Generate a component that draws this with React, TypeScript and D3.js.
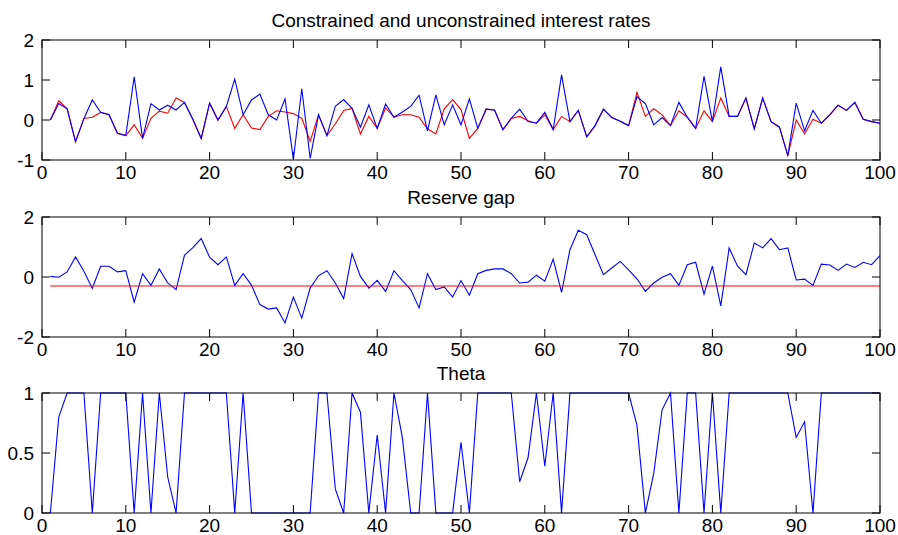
import React, { useEffect, useRef } from "react";
import * as d3 from "d3";

const W = 898;
const H = 535;

const constrainedRate = [
  0, 0.48, 0.28, -0.54, 0.04, 0.07, 0.19, 0.13, -0.33, -0.39,
  -0.12, -0.46, 0.04, 0.22, 0.17, 0.55, 0.44, 0.02, -0.46, 0.42,
  0, 0.34, -0.21, 0.13, -0.2, -0.24, 0.09, 0.23, 0.2, 0.16,
  0.04, -0.53, 0.13, -0.39, -0.1, 0.24, 0.29, -0.35, 0.09, -0.21,
  0.3, 0.07, 0.13, 0.13, 0.07, -0.22, -0.35, 0.28, 0.51, 0.26,
  -0.46, -0.21, 0.27, 0.25, -0.24, 0.04, 0.09, -0.02, -0.08, 0.13,
  -0.24, 0.09, -0.04, 0.24, -0.42, -0.14, 0.27, 0.06, -0.03, -0.14,
  0.69, 0.09, 0.28, 0.13, -0.14, 0.23, 0.07, -0.21, 0.23, -0.04,
  0.55, 0.09, 0.09, 0.55, -0.22, 0.55, -0.04, -0.18, -0.89, 0.0,
  -0.35, 0.02, -0.08, 0.13, 0.37, 0.24, 0.44, 0.02, -0.04, -0.08,
];

const unconstrainedRate = [
  0, 0.41, 0.28, -0.54, 0.03, 0.5, 0.19, 0.13, -0.33, -0.39,
  1.08, -0.46, 0.41, 0.25, 0.37, 0.25, 0.44, 0.02, -0.46, 0.42,
  0, 0.34, 1.02, 0.13, 0.5, 0.65, 0.13, 0.0, 0.53, -0.98,
  0.78, -0.96, 0.13, -0.39, 0.34, 0.51, 0.29, -0.18, 0.38, -0.21,
  0.4, 0.07, 0.2, 0.34, 0.62, -0.27, 0.63, -0.12, 0.38, -0.12,
  0.53, -0.21, 0.27, 0.25, -0.24, 0.04, 0.27, -0.04, -0.08, 0.19,
  -0.24, 1.13, -0.04, 0.24, -0.42, -0.14, 0.27, 0.06, -0.03, -0.14,
  0.58, 0.41, -0.12, 0.06, -0.14, 0.44, 0.07, -0.21, 1.09, -0.04,
  1.33, 0.09, 0.09, 0.55, -0.22, 0.55, -0.04, -0.18, -0.89, 0.42,
  -0.27, 0.24, -0.08, 0.13, 0.37, 0.24, 0.44, 0.02, -0.04, -0.08,
];

const reserveGap = [
  0.02, -0.01, 0.17, 0.67, 0.19, -0.38, 0.36, 0.36, 0.17, 0.21,
  -0.84, 0.11, -0.28, 0.27, -0.2, -0.42, 0.72, 0.98, 1.28, 0.66,
  0.41, 0.67, -0.28, 0.11, -0.27, -0.92, -1.07, -1.03, -1.53, -0.67,
  -1.37, -0.37, 0.04, 0.21, -0.2, -0.72, 0.78, 0.02, -0.37, -0.11,
  -0.48, 0.21, -0.12, -0.42, -1.03, 0.11, -0.42, -0.33, -0.67, -0.12,
  -0.61, 0.11, 0.22, 0.27, 0.27, 0.11, -0.2, -0.17, 0.06, -0.14,
  0.6, -0.51, 0.91, 1.56, 1.41, 0.74, 0.08, 0.3, 0.52, 0.24,
  -0.06, -0.48, -0.2, -0.01, 0.11, -0.28, 0.41, 0.49, -0.57, 0.36,
  -0.96, 0.97, 0.36, 0.08, 1.13, 0.97, 1.28, 0.91, 0.97, -0.1,
  -0.07, -0.28, 0.43, 0.4, 0.22, 0.43, 0.32, 0.49, 0.41, 0.71,
];

const reserveThreshold = -0.3;

const theta = [
  0, 0.8, 1, 1, 1, 0, 1, 1, 1, 1,
  0, 1, 0, 1, 0.3, 0, 1, 1, 1, 1,
  1, 1, 0, 1, 0, 0, 0, 0, 0, 0,
  0, 0, 1, 1, 0.2, 0, 1, 0.84, 0, 0.65,
  0, 1, 0.63, 0, 0, 1, 0, 0, 0, 0.59,
  0, 1, 1, 1, 1, 1, 0.26, 0.46, 1, 0.39,
  1, 0, 1, 1, 1, 1, 1, 1, 1, 1,
  0.73, 0, 0.33, 0.86, 1, 0, 1, 1, 0, 1,
  0, 1, 1, 1, 1, 1, 1, 1, 1, 0.63,
  0.76, 0, 1, 1, 1, 1, 1, 1, 1, 1,
];

const xTicks = [0, 10, 20, 30, 40, 50, 60, 70, 80, 90, 100];
const topYTicks = [-1, 0, 1, 2];
const midYTicks = [-2, 0, 2];
const botYTicks = [0, 0.5, 1];

const titles = ["Constrained and unconstrained interest rates", "Reserve gap", "Theta"];

export default function App() {
  const ref = useRef<SVGSVGElement>(null);

  useEffect(() => {
    const svg = d3.select(ref.current);
    svg.selectAll("*").remove();
    const font = "'Liberation Sans', Arial, sans-serif";
    const fs = 19;
    const left = 42;
    const right = 880;
    const x = d3.scaleLinear().domain([0, 100]).range([left, right]);
    const idx = d3.range(1, 101);

    const panels = [
      { top: 40, bottom: 160, domain: [-1, 2], ticks: topYTicks, title: titles[0],
        series: [
          { data: constrainedRate, color: "#ff0000" },
          { data: unconstrainedRate, color: "#0000ff" },
        ] },
      { top: 217, bottom: 337, domain: [-2, 2], ticks: midYTicks, title: titles[1],
        series: [
          { data: reserveGap, color: "#0000ff" },
          { data: idx.map(() => reserveThreshold), color: "#ff0000" },
        ] },
      { top: 393, bottom: 513, domain: [0, 1], ticks: botYTicks, title: titles[2],
        series: [{ data: theta, color: "#0000ff" }] },
    ];

    const tl = 8;
    panels.forEach((p) => {
      const y = d3.scaleLinear().domain(p.domain).range([p.bottom, p.top]);
      const g = svg.append("g");
      p.series.forEach((s) => {
        const line = d3.line<number>()
          .x((_, i) => x(idx[i]))
          .y((d) => y(d));
        g.append("path")
          .attr("d", line(s.data) as string)
          .attr("fill", "none")
          .attr("stroke", s.color)
          .attr("stroke-width", 1.1);
      });
      g.append("rect")
        .attr("x", left).attr("y", p.top)
        .attr("width", right - left).attr("height", p.bottom - p.top)
        .attr("fill", "none").attr("stroke", "#000").attr("stroke-width", 1);
      xTicks.forEach((t) => {
        const px = x(t);
        g.append("line").attr("x1", px).attr("x2", px).attr("y1", p.bottom).attr("y2", p.bottom - tl).attr("stroke", "#000");
        g.append("line").attr("x1", px).attr("x2", px).attr("y1", p.top).attr("y2", p.top + tl).attr("stroke", "#000");
        g.append("text").attr("x", px).attr("y", p.bottom + 19)
          .attr("text-anchor", "middle").attr("font-family", font).attr("font-size", fs)
          .text(String(t));
      });
      p.ticks.forEach((t) => {
        const py = y(t);
        g.append("line").attr("x1", left).attr("x2", left + tl).attr("y1", py).attr("y2", py).attr("stroke", "#000");
        g.append("line").attr("x1", right).attr("x2", right - tl).attr("y1", py).attr("y2", py).attr("stroke", "#000");
        g.append("text").attr("x", left - 8).attr("y", py + 7)
          .attr("text-anchor", "end").attr("font-family", font).attr("font-size", fs)
          .text(String(t));
      });
      g.append("text").attr("x", (left + right) / 2).attr("y", p.top - 13)
        .attr("text-anchor", "middle").attr("font-family", font).attr("font-size", fs)
        .text(p.title);
    });
  }, []);

  return (
    <svg ref={ref} width={W} height={H}
      style={{ position: "absolute", left: 0, top: 0, background: "#fff" }} />
  );
}
